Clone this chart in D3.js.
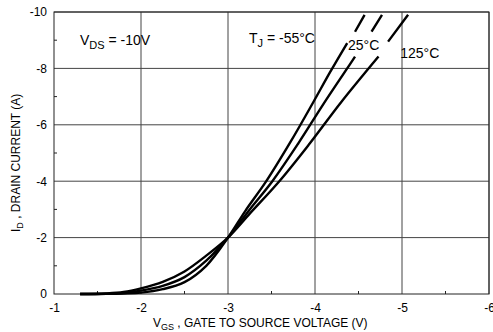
<!DOCTYPE html>
<html><head><meta charset="utf-8">
<script src="https://cdn.jsdelivr.net/npm/d3@7"></script>
<style>
body{margin:0;background:#fff;}
text{font-family:"Liberation Sans",Arial,Helvetica,sans-serif;fill:#000;}
</style></head>
<body><svg id="c" width="493" height="332"></svg>
<script>
// Data: [VGS (V), ID (A)]; null marks a break in the drawn curve
const series_m55 = [[-1.3,0],[-1.6,-0.005],[-1.8,-0.02],[-2.0,-0.05],[-2.25,-0.17],[-2.5,-0.42],[-2.75,-1.0],[-3.0,-2.0],[-3.2,-2.95],[-3.44,-4.0],[-3.72,-5.4],[-3.98,-6.8],[-4.17,-7.85],[-4.37,-8.9],null,[-4.46,-9.3],[-4.57,-9.9]];
const series_25  = [[-1.3,0],[-1.6,-0.01],[-1.8,-0.04],[-2.0,-0.12],[-2.25,-0.29],[-2.5,-0.6],[-2.75,-1.18],[-3.0,-2.0],[-3.25,-3.0],[-3.51,-4.0],[-3.81,-5.35],[-4.1,-6.75],[-4.37,-8.0],[-4.46,-8.42],null,[-4.65,-9.3],[-4.77,-9.9]];
const series_125 = [[-1.3,0],[-1.6,-0.02],[-1.8,-0.07],[-2.0,-0.2],[-2.25,-0.43],[-2.5,-0.8],[-2.75,-1.36],[-3.0,-2.0],[-3.25,-2.85],[-3.59,-4.0],[-3.93,-5.3],[-4.3,-6.8],[-4.73,-8.42],null,[-4.84,-8.95],[-5.07,-9.9]];
const xTicks = [-1,-2,-3,-4,-5,-6];
const yTicks = [0,-2,-4,-6,-8,-10];
const xMinor = [-1.5,-2.5,-3.5,-4.5,-5.5];
const yMinor = [-1,-3,-5,-7,-9];
const curveLabels = [
  {t:"25°C", v:-4.38, i:-8.65},
  {t:"125°C", v:-4.98, i:-8.37}
];

const svg = d3.select("#c");
const x = d3.scaleLinear().domain([-1,-6]).range([54,489]);
const y = d3.scaleLinear().domain([0,-10]).range([294,12]);

const g = svg.append("g");
// grid
g.selectAll(".gx").data(xTicks.slice(1)).enter().append("line")
  .attr("x1",d=>x(d)).attr("x2",d=>x(d)).attr("y1",y(0)).attr("y2",y(-10))
  .attr("stroke","#444").attr("stroke-width",1);
g.selectAll(".gy").data(yTicks.slice(1)).enter().append("line")
  .attr("y1",d=>y(d)).attr("y2",d=>y(d)).attr("x1",x(-1)).attr("x2",x(-6))
  .attr("stroke","#444").attr("stroke-width",1);
// frame
g.append("rect").attr("x",x(-1)).attr("y",y(-10)).attr("width",x(-6)-x(-1)).attr("height",y(0)-y(-10))
  .attr("fill","none").attr("stroke","#222").attr("stroke-width",1);
// minor ticks
g.selectAll(".mx").data(xMinor).enter().append("line")
  .attr("x1",d=>x(d)).attr("x2",d=>x(d)).attr("y1",y(0)).attr("y2",y(0)-3)
  .attr("stroke","#222");
g.selectAll(".my").data(yMinor).enter().append("line")
  .attr("y1",d=>y(d)).attr("y2",d=>y(d)).attr("x1",x(-1)).attr("x2",x(-1)+3)
  .attr("stroke","#222");

// axes labels (hyphen-minus as in the reference)
const fmt = d => String(d);
const xAxis = d3.axisBottom(x).tickValues(xTicks).tickSize(0).tickPadding(9).tickFormat(fmt);
const xa = svg.append("g").attr("transform",`translate(0,${y(0)})`).call(xAxis);
xa.select(".domain").remove();
xa.selectAll("text").style("font-size","12px").style("font-family","Liberation Sans, Arial, sans-serif");
const yAxis = d3.axisLeft(y).tickValues(yTicks).tickSize(0).tickPadding(7).tickFormat(fmt);
const ya = svg.append("g").attr("transform",`translate(${x(-1)},0)`).call(yAxis);
ya.select(".domain").remove();
ya.selectAll("text").style("font-size","12px").style("font-family","Liberation Sans, Arial, sans-serif");

// curves
const line = d3.line().defined(d=>d!==null).x(d=>x(d[0])).y(d=>y(d[1])).curve(d3.curveCatmullRom.alpha(0.5));
[series_m55, series_25, series_125].forEach(s=>{
  svg.append("path").datum(s).attr("d",line).attr("fill","none")
    .attr("stroke","#000").attr("stroke-width",2.4).attr("stroke-linecap","butt");
});

// text annotations
const t1 = svg.append("text").attr("x",80).attr("y",45).style("font-size","14px");
t1.append("tspan").text("V");
t1.append("tspan").attr("dy",4).style("font-size","11px").text("DS");
t1.append("tspan").attr("dy",-4).text(" = -10V");
const t2 = svg.append("text").attr("x",249).attr("y",43).style("font-size","14px");
t2.append("tspan").text("T");
t2.append("tspan").attr("dy",4).style("font-size","11px").text("J");
t2.append("tspan").attr("dy",-4).text(" = -55°C");
svg.selectAll(".cl").data(curveLabels).enter().append("text")
  .attr("x",d=>x(d.v)).attr("y",d=>y(d.i)).style("font-size","14px").text(d=>d.t);

// axis titles
const xt = svg.append("text").attr("x",153).attr("y",327).style("font-size","12px");
xt.append("tspan").text("V");
xt.append("tspan").attr("dy",3).style("font-size","9px").text("GS");
xt.append("tspan").attr("dy",-3).text(" , GATE TO SOURCE VOLTAGE (V)");
const yt = svg.append("text").attr("transform","translate(20,232) rotate(-90)").style("font-size","12px");
yt.append("tspan").text("I");
yt.append("tspan").attr("dy",3).style("font-size","9px").text("D");
yt.append("tspan").attr("dy",-3).text(" , DRAIN CURRENT (A)");
</script></body></html>
